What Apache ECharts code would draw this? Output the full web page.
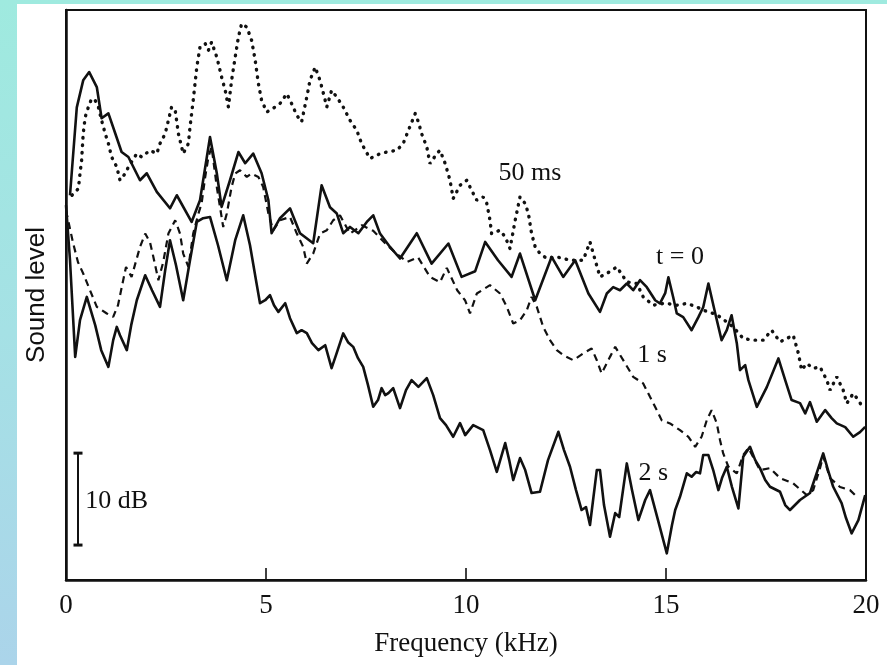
<!DOCTYPE html>
<html>
<head>
<meta charset="utf-8">
<title>Sound level spectra</title>
<script src="https://cdn.jsdelivr.net/npm/echarts@6/dist/echarts.min.js"></script>
<style>
  html, body {
    margin: 0; padding: 0; width: 887px; height: 665px; overflow: hidden;
    background: linear-gradient(180deg, #9feadf 0%, #a5e1e5 50%, #abd4ea 100%);
  }
  #paper { position: absolute; left: 17px; top: 4px; right: 0; bottom: 0; background: #ffffff; }
  #chart { position: absolute; left: 0; top: 0; width: 887px; height: 665px; }
</style>
</head>
<body>
<div id="paper"></div>
<div id="chart"></div>
<script>
// Frequency axis (kHz)
const freqTicks = [0, 5, 10, 15, 20];

// Spectra: [frequency kHz, relative level dB]
const spectrum50ms = [
  [0.15,41.85],[0.31,42.58],[0.35,44.21],[0.39,45.65],[0.43,48.55],[0.48,50.36],[0.56,51.45],[0.64,52.36],
  [0.73,52.17],[0.81,51.45],[0.89,50.00],[0.98,48.55],[1.06,47.47],[1.14,46.01],[1.27,44.92],[1.35,43.48],
  [1.48,44.21],[1.56,44.92],[1.77,46.38],[1.89,46.01],[2.10,46.74],[2.27,46.38],[2.35,47.47],[2.48,48.55],
  [2.56,50.00],[2.64,51.45],[2.73,51.09],[2.81,48.55],[2.93,46.38],[3.06,47.47],[3.10,49.27],[3.18,52.17],
  [3.27,55.79],[3.35,57.97],[3.48,58.34],[3.56,57.61],[3.64,58.51],[3.77,56.88],[3.89,54.71],[3.98,53.26],
  [4.06,51.45],[4.14,54.35],[4.23,56.88],[4.31,59.05],[4.39,60.51],[4.52,60.14],[4.64,58.70],[4.73,56.52],
  [4.81,53.99],[4.89,52.17],[5.02,50.90],[5.23,51.45],[5.35,51.82],[5.52,52.90],[5.64,51.82],[5.77,50.54],
  [5.89,49.82],[6.02,52.53],[6.10,54.35],[6.23,55.79],[6.35,54.35],[6.48,52.17],[6.52,51.45],[6.64,53.26],
  [6.77,52.53],[6.93,51.45],[7.10,50.00],[7.27,48.91],[7.39,47.47],[7.60,45.84],[7.85,46.38],[8.02,46.55],
  [8.27,46.74],[8.43,47.47],[8.56,48.91],[8.73,50.73],[8.81,49.82],[8.89,48.55],[9.02,47.10],[9.10,45.29],
  [9.27,46.38],[9.35,46.74],[9.48,45.29],[9.60,43.48],[9.68,41.49],[9.85,42.93],[10.02,43.48],[10.14,42.39],
  [10.27,41.30],[10.43,41.66],[10.52,40.95],[10.60,39.13],[10.64,37.68],[10.85,38.04],[10.98,37.32],[11.10,36.05],
  [11.23,39.13],[11.35,41.66],[11.48,40.95],[11.56,39.86],[11.64,37.68],[11.73,36.23],[11.85,35.51],[12.02,34.97],
  [12.27,35.14],[12.43,34.97],[12.60,34.78],[12.93,34.78],[13.10,36.77],[13.23,34.78],[13.35,32.97],[13.52,33.34],
  [13.77,34.05],[14.02,32.42],[14.27,32.25],[14.43,30.79],[14.68,29.89],[14.98,30.11],[15.27,29.89],[15.52,30.08],
  [15.77,29.71],[15.93,29.35],[16.18,28.99],[16.35,28.62],[16.68,27.53],[16.93,26.27],[17.18,26.09],[17.43,26.09],
  [17.64,27.17],[17.85,25.90],[18.02,26.27],[18.18,26.63],[18.31,24.64],[18.39,22.83],[18.52,23.55],[18.68,23.01],
  [18.85,23.18],[19.02,21.74],[19.10,20.65],[19.27,22.10],[19.43,20.65],[19.52,19.21],[19.68,20.29],[19.81,19.57],
  [19.93,18.66]
];

const spectrumT0 = [
  [0.10,41.85],[0.27,51.41],[0.43,54.35],[0.58,55.25],[0.77,53.62],[0.89,50.22],[1.06,50.76],[1.23,48.59],
  [1.39,46.55],[1.56,46.01],[1.85,43.48],[2.02,44.24],[2.27,42.21],[2.60,40.43],[2.77,41.85],[3.14,38.95],
  [3.35,41.30],[3.60,48.18],[3.77,44.24],[3.89,40.58],[4.10,43.48],[4.31,46.55],[4.48,45.33],[4.68,46.38],
  [4.89,44.24],[5.06,41.30],[5.14,37.72],[5.35,39.35],[5.60,40.43],[5.85,37.72],[6.18,36.63],[6.39,42.93],
  [6.60,40.54],[6.77,39.86],[6.93,37.72],[7.10,38.40],[7.31,37.72],[7.52,38.95],[7.68,39.67],[7.85,37.68],
  [8.10,36.23],[8.35,34.97],[8.77,37.72],[9.14,34.42],[9.56,36.60],[9.89,32.97],[10.23,33.59],[10.48,36.77],
  [10.80,34.78],[11.14,32.97],[11.35,35.51],[11.73,30.43],[12.14,35.14],[12.43,32.97],[12.73,34.78],[13.06,31.16],
  [13.35,29.16],[13.52,31.16],[13.68,31.85],[13.85,31.52],[14.02,32.25],[14.18,31.52],[14.35,32.61],[14.52,31.85],
  [14.73,30.43],[14.85,30.08],[14.98,31.20],[15.06,32.93],[15.18,30.76],[15.27,28.99],[15.43,28.59],[15.64,27.17],
  [15.81,28.59],[15.93,29.67],[16.06,32.25],[16.23,29.02],[16.39,26.09],[16.52,27.17],[16.64,28.80],[16.77,25.76],
  [16.85,22.83],[16.98,23.37],[17.06,21.74],[17.27,18.84],[17.52,20.98],[17.81,24.10],[17.98,21.74],[18.14,19.57],
  [18.35,19.24],[18.48,18.12],[18.60,19.35],[18.77,17.21],[18.98,18.48],[19.14,17.61],[19.27,17.03],[19.48,16.63],
  [19.68,15.58],[19.85,16.09],[19.98,16.66]
];

const spectrum1s = [
  [0.00,40.20],[0.18,36.60],[0.30,34.57],[0.43,33.34],[0.60,31.52],[0.77,29.71],[1.02,28.99],[1.18,28.62],
  [1.30,29.89],[1.43,32.61],[1.50,34.05],[1.64,32.97],[1.85,36.23],[1.98,37.68],[2.10,36.74],[2.18,35.22],
  [2.31,32.61],[2.43,34.57],[2.56,37.68],[2.73,39.13],[2.85,37.68],[2.93,35.51],[3.06,34.05],[3.18,37.68],
  [3.31,39.86],[3.39,40.95],[3.48,43.84],[3.56,46.01],[3.64,47.10],[3.77,42.75],[3.93,38.40],[4.02,39.86],
  [4.14,42.75],[4.23,44.21],[4.35,44.57],[4.52,43.84],[4.64,44.21],[4.81,43.84],[4.93,42.75],[5.06,39.86],
  [5.18,38.04],[5.35,39.13],[5.60,39.49],[5.77,37.68],[5.93,36.23],[6.02,34.42],[6.18,35.51],[6.35,37.68],
  [6.52,38.04],[6.68,39.13],[6.85,39.67],[7.10,37.68],[7.40,38.59],[7.68,37.98],[7.98,36.63],[8.25,35.54],
  [8.53,34.60],[8.80,35.10],[9.10,32.97],[9.35,32.40],[9.52,33.95],[9.78,31.52],[9.98,30.40],[10.10,28.99],
  [10.27,31.16],[10.60,32.07],[10.85,31.16],[11.02,29.71],[11.18,27.90],[11.35,28.26],[11.52,29.35],[11.64,30.79],
  [11.77,29.71],[11.93,27.53],[12.10,26.09],[12.27,25.00],[12.43,24.46],[12.68,23.91],[12.93,24.64],[13.14,25.18],
  [13.27,23.91],[13.39,22.47],[13.60,24.27],[13.73,25.36],[13.93,23.91],[14.18,22.10],[14.43,21.38],[14.60,19.92],
  [14.77,18.48],[14.89,17.39],[15.10,17.03],[15.35,16.30],[15.56,15.58],[15.73,14.49],[15.89,15.58],[16.02,17.39],
  [16.14,18.48],[16.27,17.03],[16.35,15.22],[16.43,13.77],[16.56,12.32],[16.77,11.60],[16.93,13.59],[17.06,14.35],
  [17.35,11.96],[17.60,12.17],[17.85,11.09],[18.18,10.51],[18.52,9.24],[18.68,9.78],[18.85,12.17],[18.93,13.48],
  [19.10,11.09],[19.35,10.11],[19.60,9.78],[19.78,9.02]
];

const spectrum2s = [
  [0.00,40.76],[0.10,34.78],[0.23,24.27],[0.35,28.26],[0.52,30.79],[0.73,27.72],[0.88,25.00],[1.06,23.18],
  [1.18,26.09],[1.27,27.53],[1.35,26.63],[1.52,25.00],[1.63,27.72],[1.77,30.43],[1.98,33.15],[2.15,31.52],
  [2.35,29.71],[2.48,33.70],[2.60,36.96],[2.75,34.24],[2.93,30.43],[3.10,34.78],[3.27,38.95],[3.43,39.35],
  [3.60,39.49],[3.80,36.41],[4.02,32.61],[4.23,36.96],[4.43,39.67],[4.60,36.41],[4.75,32.61],[4.85,30.11],
  [4.98,30.43],[5.10,30.98],[5.20,29.89],[5.31,29.16],[5.48,30.11],[5.60,28.48],[5.77,26.85],[5.89,27.17],
  [6.02,26.85],[6.15,25.76],[6.31,25.00],[6.48,25.54],[6.64,23.04],[6.75,24.46],[6.93,26.82],[7.05,25.87],
  [7.18,25.36],[7.30,24.13],[7.43,23.18],[7.55,21.20],[7.68,18.84],[7.80,19.57],[7.89,20.87],[7.98,20.11],
  [8.06,20.33],[8.18,20.87],[8.35,18.70],[8.50,20.65],[8.64,21.74],[8.81,21.01],[9.02,21.96],[9.18,20.11],
  [9.35,17.61],[9.50,16.85],[9.68,15.58],[9.85,17.07],[9.98,15.76],[10.18,16.85],[10.43,16.30],[10.60,14.13],
  [10.77,11.77],[10.98,14.89],[11.08,13.04],[11.18,10.87],[11.35,13.26],[11.48,11.96],[11.64,9.46],[11.85,9.60],
  [12.05,13.04],[12.31,16.12],[12.45,14.13],[12.60,12.32],[12.75,9.78],[12.89,7.61],[13.00,7.93],[13.10,5.98],
  [13.27,11.96],[13.35,11.96],[13.45,8.15],[13.60,4.71],[13.73,7.28],[13.83,6.85],[14.02,12.68],[14.15,9.78],
  [14.31,6.52],[14.48,8.70],[14.60,9.78],[14.80,6.52],[15.02,2.90],[15.15,5.98],[15.23,7.61],[15.35,9.05],
  [15.52,11.60],[15.64,11.23],[15.75,11.74],[15.85,11.60],[15.93,13.59],[16.06,13.59],[16.18,11.96],[16.31,9.78],
  [16.40,11.09],[16.52,12.32],[16.65,10.11],[16.81,7.79],[16.93,13.40],[17.10,14.49],[17.23,13.04],[17.35,12.17],
  [17.48,10.87],[17.60,10.14],[17.85,9.60],[17.98,8.15],[18.10,7.61],[18.35,8.70],[18.60,9.46],[18.75,11.41],
  [18.93,13.77],[19.05,11.96],[19.18,10.14],[19.39,8.37],[19.50,6.74],[19.64,5.08],[19.81,6.52],[19.98,9.24]
];

// 10 dB scale bar: [frequency kHz, level dB]
const scaleBar = [[0.30, 3.8], [0.30, 13.8]];

// Curve annotations: text and anchor [kHz, dB]
const curveNotes = [
  { text: '50 ms', at: [11.6, 44.2] },
  { text: 't = 0', at: [15.35, 35.1] },
  { text: '1 s',   at: [14.65, 24.5] },
  { text: '2 s',   at: [14.68, 11.6] }
];
const scaleNote = { text: '10 dB', at: [0.48, 8.6] };

const INK = '#111111';
const SERIF = '"Liberation Serif", "DejaVu Serif", serif';

const chart = echarts.init(document.getElementById('chart'), null, { renderer: 'canvas' });

chart.setOption({
  animation: false,
  backgroundColor: 'transparent',
  grid: {
    left: 66, right: 21, top: 10, bottom: 85,
    show: true, borderColor: INK, borderWidth: 2, backgroundColor: 'transparent'
  },
  xAxis: {
    type: 'value', min: freqTicks[0], max: freqTicks[freqTicks.length - 1], interval: 5,
    name: 'Frequency (kHz)', nameLocation: 'middle', nameGap: 50,
    nameTextStyle: { fontFamily: SERIF, fontSize: 27, color: INK },
    axisLine: { lineStyle: { color: INK, width: 2.5 } },
    axisTick: { inside: true, length: 12, lineStyle: { color: INK, width: 1.6 } },
    axisLabel: { margin: 12, fontFamily: SERIF, fontSize: 27, color: INK },
    splitLine: { show: false }
  },
  yAxis: {
    type: 'value', min: 0, max: 62,
    name: 'Sound level', nameLocation: 'middle', nameGap: 16, nameRotate: 90,
    nameTextStyle: { fontFamily: '"Liberation Sans", Arial, sans-serif', fontSize: 26, color: INK },
    axisLine: { show: true, lineStyle: { color: INK, width: 2.5 } },
    axisTick: { show: false },
    axisLabel: { show: false },
    splitLine: { show: false }
  },
  series: [
    {
      name: '50 ms', type: 'line', data: spectrum50ms, showSymbol: false, symbol: 'none',
      lineStyle: { color: INK, width: 3.4, type: [0.5, 7], cap: 'round' }, z: 2
    },
    {
      name: 't = 0', type: 'line', data: spectrumT0, showSymbol: false, symbol: 'none',
      lineStyle: { color: INK, width: 2.6, join: 'round' }, z: 3
    },
    {
      name: '1 s', type: 'line', data: spectrum1s, showSymbol: false, symbol: 'none',
      lineStyle: { color: INK, width: 2.2, type: [7, 5] }, z: 2
    },
    {
      name: '2 s', type: 'line', data: spectrum2s, showSymbol: false, symbol: 'none',
      lineStyle: { color: INK, width: 2.6, join: 'round' }, z: 3
    },
    {
      name: 'scale', type: 'line', data: scaleBar, symbol: 'rect', symbolSize: [9, 3],
      itemStyle: { color: INK }, lineStyle: { color: INK, width: 2 }, z: 3
    },
    {
      name: 'notes', type: 'scatter', symbolSize: 0, silent: true, z: 5,
      itemStyle: { opacity: 1, color: INK },
      data: curveNotes.map(n => ({ name: n.text, value: n.at }))
        .concat([{ name: scaleNote.text, value: scaleNote.at,
                   label: { position: 'right', distance: 0 } }]),
      label: {
        show: true, position: 'inside', formatter: p => p.name,
        fontFamily: SERIF, fontSize: 26, color: INK, opacity: 1
      }
    }
  ]
});
</script>
</body>
</html>
